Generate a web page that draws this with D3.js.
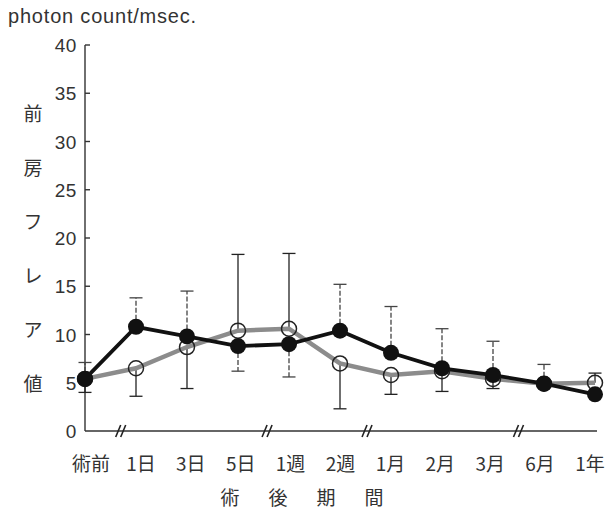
<!DOCTYPE html>
<html lang="ja">
<head>
<meta charset="UTF-8">
<script src="https://cdn.jsdelivr.net/npm/d3@7/dist/d3.min.js"></script>
<style>
  body, html { margin: 0; padding: 0; background: #fff; overflow: hidden; }
  svg { display: block; }
  text { fill: #333; }
</style>
</head>
<body>
<svg id="mainsvg"></svg>
<script>
// 術後期間
const periods = ["術前", "1日", "3日", "5日", "1週", "2週", "1月", "2月", "3月", "6月", "1年"];
// ● 系列 (黒線) と ○ 系列 (灰線)
const filledVals = [5.4, 10.8, 9.8, 8.8, 9.0, 10.4, 8.1, 6.5, 5.8, 4.9, 3.8];
const openVals   = [5.4, 6.5, 8.7, 10.4, 10.6, 7.0, 5.8, 6.2, 5.4, 4.9, 5.0];
// 誤差棒の先端 (片側のみ)
const filledBarEnd = [7.1, 13.8, 14.5, 6.2, 5.6, 15.2, 12.9, 10.6, 9.3, 6.9, null];
const openBarEnd   = [4.0, 3.6, 4.4, 18.3, 18.4, 2.3, 3.8, 4.1, 4.4, null, 6.0];
const yTicks = [0, 5, 10, 15, 20, 25, 30, 35, 40];
const yTitle = ["前", "房", "フ", "レ", "ア", "値"];
const xTitle = ["術", "後", "期", "間"];
// 軸の省略記号 (//) の位置 (区間インデックス)
const breakPos = [0.7, 3.57, 5.53, 8.5];

const width = 612, height = 510;
const svg = d3.select("#mainsvg").attr("width", width).attr("height", height);

const x = d3.scalePoint().domain(periods).range([85, 595]);
const xLab = d3.scalePoint().domain(periods).range([91, 590]);
const xi = d3.scaleLinear().domain([0, periods.length - 1]).range([85, 595]);
const y = d3.scaleLinear().domain([0, 40]).range([431, 45]);

const latin = "'Liberation Sans', Arial, sans-serif";
const cjk = "'Noto Sans CJK JP', sans-serif";

// 単位
svg.append("text")
  .attr("x", 8).attr("y", 23)
  .attr("font-family", latin).attr("font-size", 20).attr("letter-spacing", 0.8)
  .text("photon count/msec.");

// y軸
const axisG = svg.append("g");
axisG.append("line")
  .attr("x1", 85).attr("x2", 85).attr("y1", y(0)).attr("y2", y(40))
  .attr("stroke", "#333").attr("stroke-width", 1.4);
axisG.selectAll(".ytick").data(yTicks.filter(d => d > 0)).join("line")
  .attr("x1", 85).attr("x2", 90).attr("y1", d => y(d)).attr("y2", d => y(d))
  .attr("stroke", "#333").attr("stroke-width", 1.4);
axisG.selectAll(".ylab").data(yTicks).join("text")
  .attr("x", 77).attr("y", d => y(d) + 7)
  .attr("text-anchor", "end")
  .attr("font-family", latin).attr("font-size", 19).attr("letter-spacing", 0.6)
  .text(d => d);

// x軸
axisG.append("line")
  .attr("x1", 85).attr("x2", 597).attr("y1", y(0)).attr("y2", y(0))
  .attr("stroke", "#333").attr("stroke-width", 1.4);
breakPos.forEach(b => {
  [-2.5, 2.5].forEach(off => {
    axisG.append("line")
      .attr("x1", xi(b) + off - 2.5).attr("y1", y(0) + 6)
      .attr("x2", xi(b) + off + 2.5).attr("y2", y(0) - 6)
      .attr("stroke", "#222").attr("stroke-width", 1.6);
  });
});
axisG.selectAll(".xlab").data(periods).join("text")
  .attr("x", d => xLab(d)).attr("y", 471)
  .attr("text-anchor", "middle")
  .attr("font-family", cjk).attr("font-size", 19)
  .text(d => d);

// 軸タイトル
svg.selectAll(".ytitle").data(yTitle).join("text")
  .attr("x", 33).attr("y", (d, i) => 121 + i * 54)
  .attr("text-anchor", "middle")
  .attr("font-family", cjk).attr("font-size", 19)
  .text(d => d);
svg.selectAll(".xtitle").data(xTitle).join("text")
  .attr("x", (d, i) => 230 + i * 48).attr("y", 505)
  .attr("text-anchor", "middle")
  .attr("font-family", cjk).attr("font-size", 19)
  .text(d => d);

// 誤差棒
function errorBars(vals, ends, dashed) {
  const g = svg.append("g")
    .attr("stroke", dashed ? "#444" : "#222")
    .attr("stroke-width", 1.3);
  const idx = d3.range(vals.length).filter(i => ends[i] != null);
  g.selectAll(".bar").data(idx).join("line")
    .attr("x1", i => x(periods[i])).attr("x2", i => x(periods[i]))
    .attr("y1", i => y(vals[i])).attr("y2", i => y(ends[i]))
    .attr("stroke-dasharray", dashed ? "5,2" : null);
  g.selectAll(".cap").data(idx).join("line")
    .attr("x1", i => x(periods[i]) - 6.5).attr("x2", i => x(periods[i]) + 6.5)
    .attr("y1", i => y(ends[i])).attr("y2", i => y(ends[i]))
    .attr("stroke-dasharray", null);
}
errorBars(openVals, openBarEnd, false);
errorBars(filledVals, filledBarEnd, true);

const line = d3.line().x((d, i) => x(periods[i])).y(d => y(d));

svg.append("path").datum(openVals)
  .attr("d", line).attr("fill", "none")
  .attr("stroke", "#8c8c8c").attr("stroke-width", 4.5);
svg.append("path").datum(filledVals)
  .attr("d", line).attr("fill", "none")
  .attr("stroke", "#111").attr("stroke-width", 3.8);

svg.append("g").selectAll("circle").data(openVals).join("circle")
  .attr("cx", (d, i) => x(periods[i])).attr("cy", d => y(d))
  .attr("r", 7.5).attr("fill", "none")
  .attr("stroke", "#222").attr("stroke-width", 1.5);
svg.append("g").selectAll("circle").data(filledVals).join("circle")
  .attr("cx", (d, i) => x(periods[i])).attr("cy", d => y(d))
  .attr("r", 8).attr("fill", "#111");
</script>
</body>
</html>
